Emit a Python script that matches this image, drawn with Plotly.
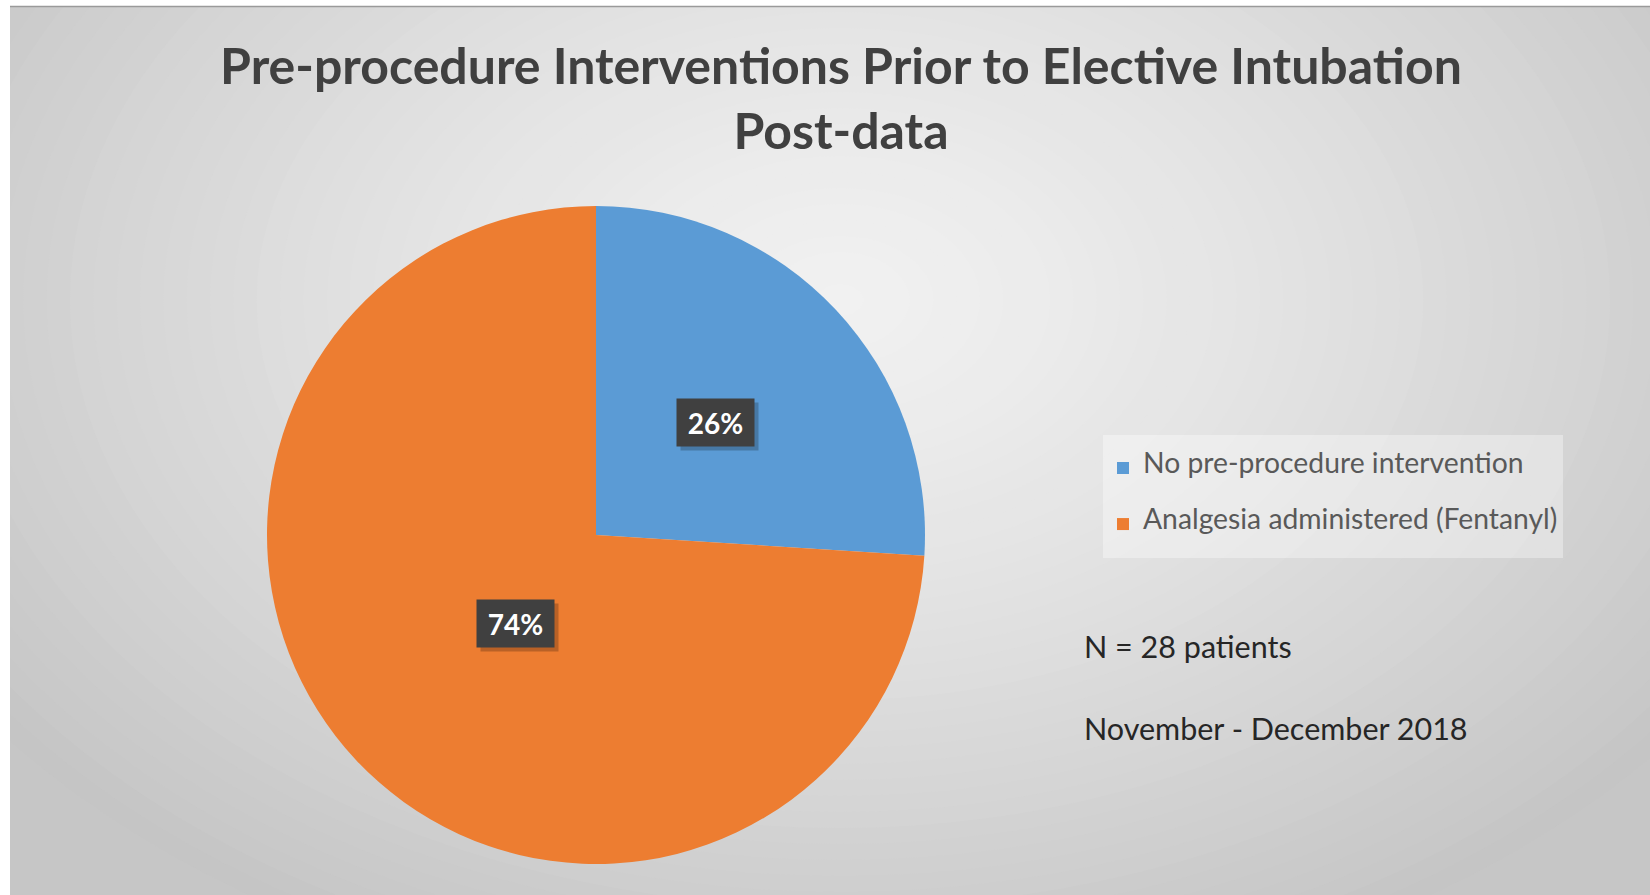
import math
import plotly.graph_objects as go

# ---------------- data ----------------
categories = ["No pre-procedure intervention", "Analgesia administered (Fentanyl)"]
percent_values = [26, 74]
slice_colors = ["#5B9BD5", "#ED7D31"]
title_lines = ["Pre-procedure Interventions Prior to Elective Intubation", "Post-data"]
notes = ["N = 28 patients", "November - December 2018"]

# ---------------- geometry helpers ----------------
W, H = 1650, 895
def px(x):
    return x / W
def py(y):
    return 1 - y / H

CX, CY, R = 596, 535, 329  # pie centre / radius in pixels

FONT = "Lato"

fig = go.Figure()

fig.add_trace(go.Pie(
    labels=[f"\u00a0<br><span style='font-size:28.3px'>{c}</span><br>\u00a0" for c in categories],
    values=percent_values,
    marker=dict(colors=slice_colors, line=dict(width=0)),
    sort=False,
    direction="clockwise",
    rotation=0,
    textinfo="none",
    hoverinfo="skip",
    domain=dict(x=[px(CX - R), px(CX + R)], y=[py(CY + R), py(CY - R)]),
))

# ---------------- background radial gradient ----------------
shapes = []
shapes.append(dict(type="rect", xref="paper", yref="paper", x0=0, x1=1, y0=0, y1=1,
                   fillcolor="#c6c6c6", line=dict(width=0), layer="below"))
gx, gy = 840, 300
RX, RY = 1050, 720
c_edge, c_mid = 197, 241
N = 45
for i in range(N):
    t = 1 - i / N
    v = round(c_mid + (c_edge - c_mid) * (t ** 1.3))
    col = f"rgb({v},{v},{v})"
    shapes.append(dict(type="circle", xref="paper", yref="paper",
                       x0=px(gx - RX * t), x1=px(gx + RX * t),
                       y0=py(gy + RY * t), y1=py(gy - RY * t),
                       fillcolor=col, line=dict(width=0), layer="below"))
# white margins + top rule
shapes.append(dict(type="rect", xref="paper", yref="paper", x0=-0.1, x1=px(10), y0=-0.1, y1=1.1,
                   fillcolor="white", line=dict(width=0), layer="below"))
shapes.append(dict(type="rect", xref="paper", yref="paper", x0=-0.1, x1=1.1, y0=py(6), y1=1.1,
                   fillcolor="white", line=dict(width=0), layer="below"))
shapes.append(dict(type="line", xref="paper", yref="paper", x0=px(10), x1=1, y0=py(6.5), y1=py(6.5),
                   line=dict(color="#9a9a9a", width=1.5), layer="below"))

# ---------------- data labels (computed from the values) ----------------
annotations = []
total = sum(percent_values)
cum = 0
for v in percent_values:
    mid = (cum + v / 2) / total * 2 * math.pi
    cum += v
    lx = CX + 0.5 * R * math.sin(mid)
    ly = CY - 0.5 * R * math.cos(mid)
    # shadow
    annotations.append(dict(x=px(lx), y=py(ly), xref="paper", yref="paper", text=" ",
                            showarrow=False, width=77, height=47, borderpad=0,
                            bgcolor="rgba(0,0,0,0.22)", xshift=4, yshift=-4))
    annotations.append(dict(x=px(lx), y=py(ly), xref="paper", yref="paper",
                            text=f"<b>{round(v / total * 100)}%</b>",
                            showarrow=False, width=77, height=47, borderpad=0,
                            bgcolor="#404040", font=dict(family=FONT, size=28, color="white")))

# ---------------- notes ----------------
note_y = [646, 728]
for txt, yy in zip(notes, note_y):
    annotations.append(dict(x=px(1082), y=py(yy), xref="paper", yref="paper", text=txt,
                            showarrow=False, xanchor="left", yanchor="middle",
                            font=dict(family=FONT, size=30.5, color="#262626")))

fig.update_layout(
    width=W, height=H,
    margin=dict(l=0, r=0, t=0, b=0),
    paper_bgcolor="white",
    plot_bgcolor="rgba(0,0,0,0)",
    title=dict(text="<b>" + "<br>".join(title_lines) + "</b>",
               x=px(841), xanchor="center", y=py(84), yanchor="top", yref="paper",
               font=dict(family=FONT, size=50, color="#404040")),
    showlegend=True,
    legend=dict(x=px(1103), y=py(435), xanchor="left", yanchor="top",
                bgcolor="rgba(255,255,255,0.35)", borderwidth=0,
                valign="middle",
                font=dict(family=FONT, size=13.6, color="#595959")),
    shapes=shapes,
    annotations=annotations,
)

fig.write_html("out.html", config={"displayModeBar": False},
               post_script="document.body.style.margin='0';")
